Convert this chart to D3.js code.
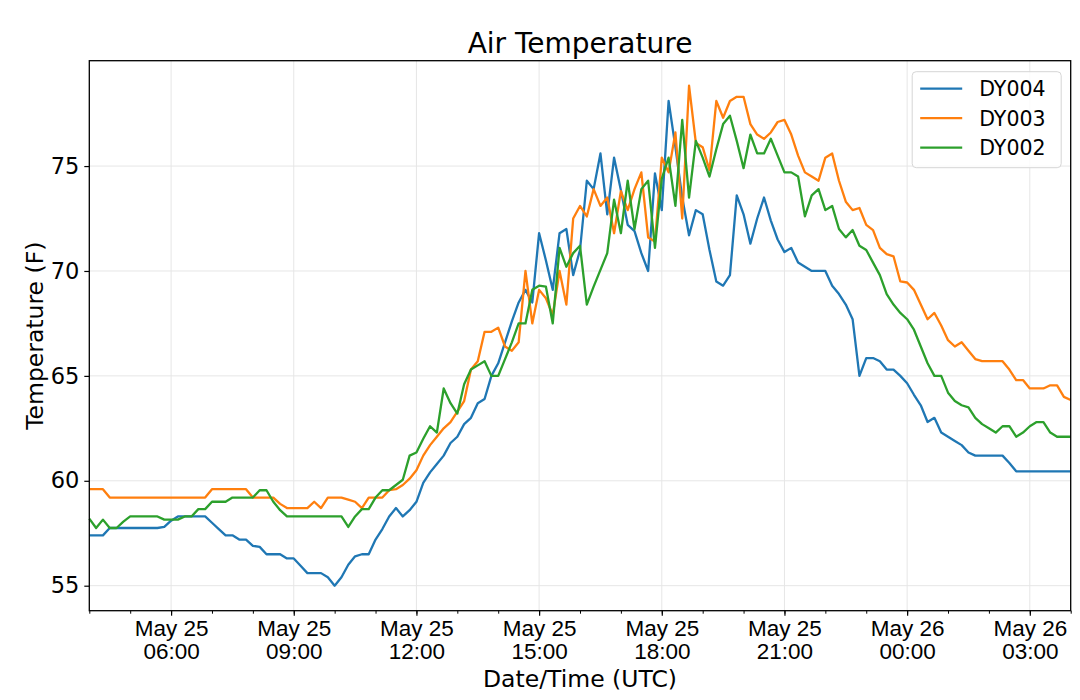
<!DOCTYPE html>
<html>
<head>
<meta charset="utf-8">
<script src="https://cdn.jsdelivr.net/npm/d3@7"></script>
<style>
    body { margin: 0; background: #fff; }
    svg { font-family: "DejaVu Sans", sans-serif; }
</style>
</head>
<body>
<div id="chart"></div>
<script>
// readings every 10 minutes, starting 2019-05-25 04:00 UTC
const startTime = new Date(Date.UTC(2019, 4, 25, 4, 0));
const stepMinutes = 10;

const seriesNames = ["DY004", "DY003", "DY002"];
const seriesColors = ["#1f77b4", "#ff7f0e", "#2ca02c"];

const dy004 = [
    57.4, 57.4, 57.4, 57.75, 57.75, 57.75, 57.75, 57.75, 57.75, 57.75,
    57.75, 57.8, 58.1, 58.3, 58.3, 58.3, 58.3, 58.3, 58.0, 57.7,
    57.4, 57.4, 57.2, 57.2, 56.9, 56.85, 56.5, 56.5, 56.5, 56.3,
    56.3, 55.95, 55.6, 55.6, 55.6, 55.4, 55.0, 55.4, 56.0, 56.4,
    56.5, 56.5, 57.2, 57.7, 58.3, 58.7, 58.3, 58.6, 59.0, 59.9,
    60.4, 60.8, 61.2, 61.8, 62.1, 62.7, 63.0, 63.7, 63.9, 65.0,
    65.6, 66.6, 67.6, 68.5, 69.1, 68.5, 71.8, 70.5, 69.1, 71.8,
    72.0, 69.8, 71.0, 74.3, 73.9, 75.6, 72.7, 75.4, 73.85, 72.2,
    71.9, 70.85, 70.0, 74.65, 72.9, 78.1, 75.9, 73.5, 71.7, 72.9,
    72.7, 71.0, 69.5, 69.3, 69.8, 73.6, 72.7, 71.3, 72.5, 73.5,
    72.4, 71.5, 70.9, 71.1, 70.4, 70.2, 70.0, 70.0, 70.0, 69.3,
    68.9, 68.4, 67.7, 65.0, 65.85, 65.85, 65.7, 65.3, 65.3, 65.0,
    64.65, 64.1, 63.6, 62.8, 63.0, 62.3, 62.1, 61.9, 61.7, 61.35,
    61.2, 61.2, 61.2, 61.2, 61.2, 60.85, 60.45, 60.45, 60.45, 60.45,
    60.45, 60.45, 60.45, 60.45, 60.45
];

const dy003 = [
    59.6, 59.6, 59.6, 59.2, 59.2, 59.2, 59.2, 59.2, 59.2, 59.2,
    59.2, 59.2, 59.2, 59.2, 59.2, 59.2, 59.2, 59.2, 59.6, 59.6,
    59.6, 59.6, 59.6, 59.6, 59.2, 59.2, 59.2, 59.2, 58.9, 58.7,
    58.7, 58.7, 58.7, 59.0, 58.7, 59.2, 59.2, 59.2, 59.1, 59.0,
    58.7, 59.2, 59.2, 59.2, 59.55, 59.6, 59.8, 60.1, 60.5, 61.2,
    61.7, 62.1, 62.5, 62.8, 63.3, 63.8, 65.3, 65.7, 67.1, 67.1,
    67.3, 66.4, 66.2, 66.6, 70.0, 67.5, 69.1, 68.7, 67.9, 70.0,
    68.4, 72.5, 73.1, 72.6, 73.9, 73.1, 73.5, 71.8, 73.8, 72.9,
    73.9, 74.7, 71.6, 71.4, 75.4, 74.7, 76.6, 72.5, 78.83, 76.1,
    75.9, 74.8, 78.1, 77.3, 78.1, 78.3, 78.3, 77.0, 76.5, 76.3,
    76.6, 77.1, 77.2, 76.5, 75.5, 74.7, 74.5, 74.3, 75.4, 75.6,
    74.3, 73.3, 72.9, 73.0, 72.2, 71.95, 71.1, 70.8, 70.7, 69.5,
    69.45, 69.1, 68.4, 67.7, 68.0, 67.4, 66.7, 66.4, 66.6, 66.2,
    65.8, 65.7, 65.7, 65.7, 65.7, 65.3, 64.8, 64.8, 64.4, 64.4,
    64.4, 64.55, 64.55, 64.0, 63.85
];

const dy002 = [
    58.2, 57.75, 58.15, 57.75, 57.75, 58.05, 58.3, 58.3, 58.3, 58.3,
    58.3, 58.15, 58.15, 58.15, 58.3, 58.3, 58.65, 58.65, 59.0, 59.0,
    59.0, 59.2, 59.2, 59.2, 59.2, 59.55, 59.55, 59.0, 58.6, 58.3,
    58.3, 58.3, 58.3, 58.3, 58.3, 58.3, 58.3, 58.3, 57.8, 58.3,
    58.65, 58.65, 59.2, 59.55, 59.55, 59.8, 60.05, 61.2, 61.35, 62.0,
    62.6, 62.3, 64.4, 63.7, 63.2, 64.6, 65.3, 65.5, 65.7, 65.0,
    65.0, 65.8, 66.6, 67.5, 67.5, 69.1, 69.3, 69.25, 67.5, 71.1,
    70.2, 70.85, 71.2, 68.4, 69.25, 70.05, 70.85, 73.4, 71.8, 74.3,
    72.0, 73.9, 74.3, 71.1, 74.4, 75.4, 73.1, 77.2, 73.5, 76.2,
    75.4, 74.5, 75.8, 77.0, 77.4, 76.2, 74.9, 76.5, 75.6, 75.6,
    76.3, 75.5, 74.7, 74.7, 74.5, 72.6, 73.6, 73.9, 72.9, 73.1,
    72.0, 71.6, 71.95, 71.2, 71.0, 70.4, 69.8, 68.9, 68.4, 68.0,
    67.7, 67.2, 66.4, 65.6, 65.0, 65.0, 64.2, 63.8, 63.6, 63.5,
    63.0, 62.7, 62.5, 62.3, 62.6, 62.6, 62.1, 62.3, 62.6, 62.8,
    62.8, 62.3, 62.1, 62.1, 62.1
];

const yTicks = [55, 60, 65, 70, 75];

document.addEventListener('DOMContentLoaded', function() {
    drawChart();
});

function drawChart() {
    const W = 1080, H = 700;
    const margin = {top: 60.7, right: 9.3, bottom: 89.3, left: 89.3};
    const width = W - margin.left - margin.right;
    const height = H - margin.top - margin.bottom;

    const times = dy004.map((_, i) => d3.utcMinute.offset(startTime, i * stepMinutes));
    const series = [dy004, dy003, dy002].map((vals, k) => ({
        name: seriesNames[k],
        color: seriesColors[k],
        values: vals.map((v, i) => ({t: times[i], v: v}))
    }));

    const svg = d3.select("#chart")
        .append("svg")
        .attr("width", W)
        .attr("height", H);

    const g = svg.append("g")
        .attr("transform", `translate(${margin.left}, ${margin.top})`);

    const x = d3.scaleUtc()
        .domain(d3.extent(times))
        .range([0, width]);

    // matplotlib style 5% padding
    const allVals = dy004.concat(dy003, dy002);
    const lo = d3.min(allVals), hi = d3.max(allVals);
    const pad = (hi - lo) * 0.05;
    const y = d3.scaleLinear()
        .domain([lo - pad, hi + pad])
        .range([height, 0]);

    const majorTicks = d3.utcHour.every(3).range(x.domain()[0], x.domain()[1]);

    // grid
    g.append("g")
        .selectAll("line.vgrid")
        .data(majorTicks)
        .enter().append("line")
        .attr("x1", d => x(d)).attr("x2", d => x(d))
        .attr("y1", 0).attr("y2", height)
        .style("stroke", "#e6e6e6")
        .style("stroke-width", 1);

    g.append("g")
        .selectAll("line.hgrid")
        .data(yTicks)
        .enter().append("line")
        .attr("x1", 0).attr("x2", width)
        .attr("y1", d => y(d)).attr("y2", d => y(d))
        .style("stroke", "#e6e6e6")
        .style("stroke-width", 1);

    // lines
    const line = d3.line()
        .x(d => x(d.t))
        .y(d => y(d.v));

    g.selectAll("path.series")
        .data(series)
        .enter().append("path")
        .attr("class", "series")
        .attr("d", d => line(d.values))
        .style("fill", "none")
        .style("stroke", d => d.color)
        .style("stroke-width", 2.3)
        .style("stroke-linejoin", "round");

    // minor x ticks every hour
    g.append("g")
        .attr("transform", `translate(0, ${height})`)
        .call(d3.axisBottom(x)
            .ticks(d3.utcHour.every(1))
            .tickSize(3)
            .tickFormat(""))
        .call(a => a.select(".domain").remove())
        .selectAll("line").style("stroke", "#000").style("stroke-width", 1);

    // major x ticks with two-line labels
    const fmtDay = d3.utcFormat("%b %d");
    const fmtHour = d3.utcFormat("%H:%M");
    const xAxis = g.append("g")
        .attr("transform", `translate(0, ${height})`)
        .call(d3.axisBottom(x)
            .tickValues(majorTicks)
            .tickSize(5)
            .tickFormat(""));
    xAxis.select(".domain").remove();
    xAxis.selectAll(".tick line").style("stroke", "#000").style("stroke-width", 1.2);
    xAxis.selectAll(".tick text").remove();
    xAxis.selectAll(".tick").append("text")
        .attr("fill", "#000")
        .attr("text-anchor", "middle")
        .style("font-size", "22.5px")
        .each(function(d) {
            const t = d3.select(this);
            t.append("tspan").attr("x", 0).attr("y", 25.5).text(fmtDay(d));
            t.append("tspan").attr("x", 0).attr("y", 48.5).text(fmtHour(d));
        });

    // y axis
    const yAxis = g.append("g")
        .call(d3.axisLeft(y)
            .tickValues(yTicks)
            .tickSize(5)
            .tickPadding(5)
            .tickFormat(d3.format("d")));
    yAxis.select(".domain").remove();
    yAxis.selectAll(".tick line").style("stroke", "#000").style("stroke-width", 1.2);
    yAxis.selectAll(".tick text")
        .attr("fill", "#000")
        .style("font-size", "22.5px")
        .style("font-family", "DejaVu Sans");

    // frame
    g.append("rect")
        .attr("width", width)
        .attr("height", height)
        .style("fill", "none")
        .style("stroke", "#000")
        .style("stroke-width", 1.3);

    // title and labels
    svg.append("text")
        .attr("x", margin.left + width / 2)
        .attr("y", 53)
        .attr("text-anchor", "middle")
        .style("font-size", "28px")
        .text("Air Temperature");

    svg.append("text")
        .attr("x", margin.left + width / 2)
        .attr("y", 687)
        .attr("text-anchor", "middle")
        .style("font-size", "23.5px")
        .text("Date/Time (UTC)");

    svg.append("text")
        .attr("transform", `translate(43, ${margin.top + height / 2}) rotate(-90)`)
        .attr("text-anchor", "middle")
        .style("font-size", "23.5px")
        .text("Temperature (F)");

    // legend
    const legend = g.append("g")
        .attr("transform", `translate(${width - 158.5}, 11)`);
    legend.append("rect")
        .attr("width", 149)
        .attr("height", 96)
        .attr("rx", 4)
        .style("fill", "#fff")
        .style("fill-opacity", 0.8)
        .style("stroke", "#d6d6d6")
        .style("stroke-width", 1);
    const item = legend.selectAll("g.item")
        .data(series)
        .enter().append("g")
        .attr("class", "item")
        .attr("transform", (d, i) => `translate(0, ${17 + i * 29.5})`);
    item.append("line")
        .attr("x1", 8).attr("x2", 50)
        .style("stroke", d => d.color)
        .style("stroke-width", 2.3);
    item.append("text")
        .attr("x", 67)
        .attr("dy", "0.36em")
        .style("font-size", "20.5px")
        .text(d => d.name);
}
</script>
</body>
</html>
